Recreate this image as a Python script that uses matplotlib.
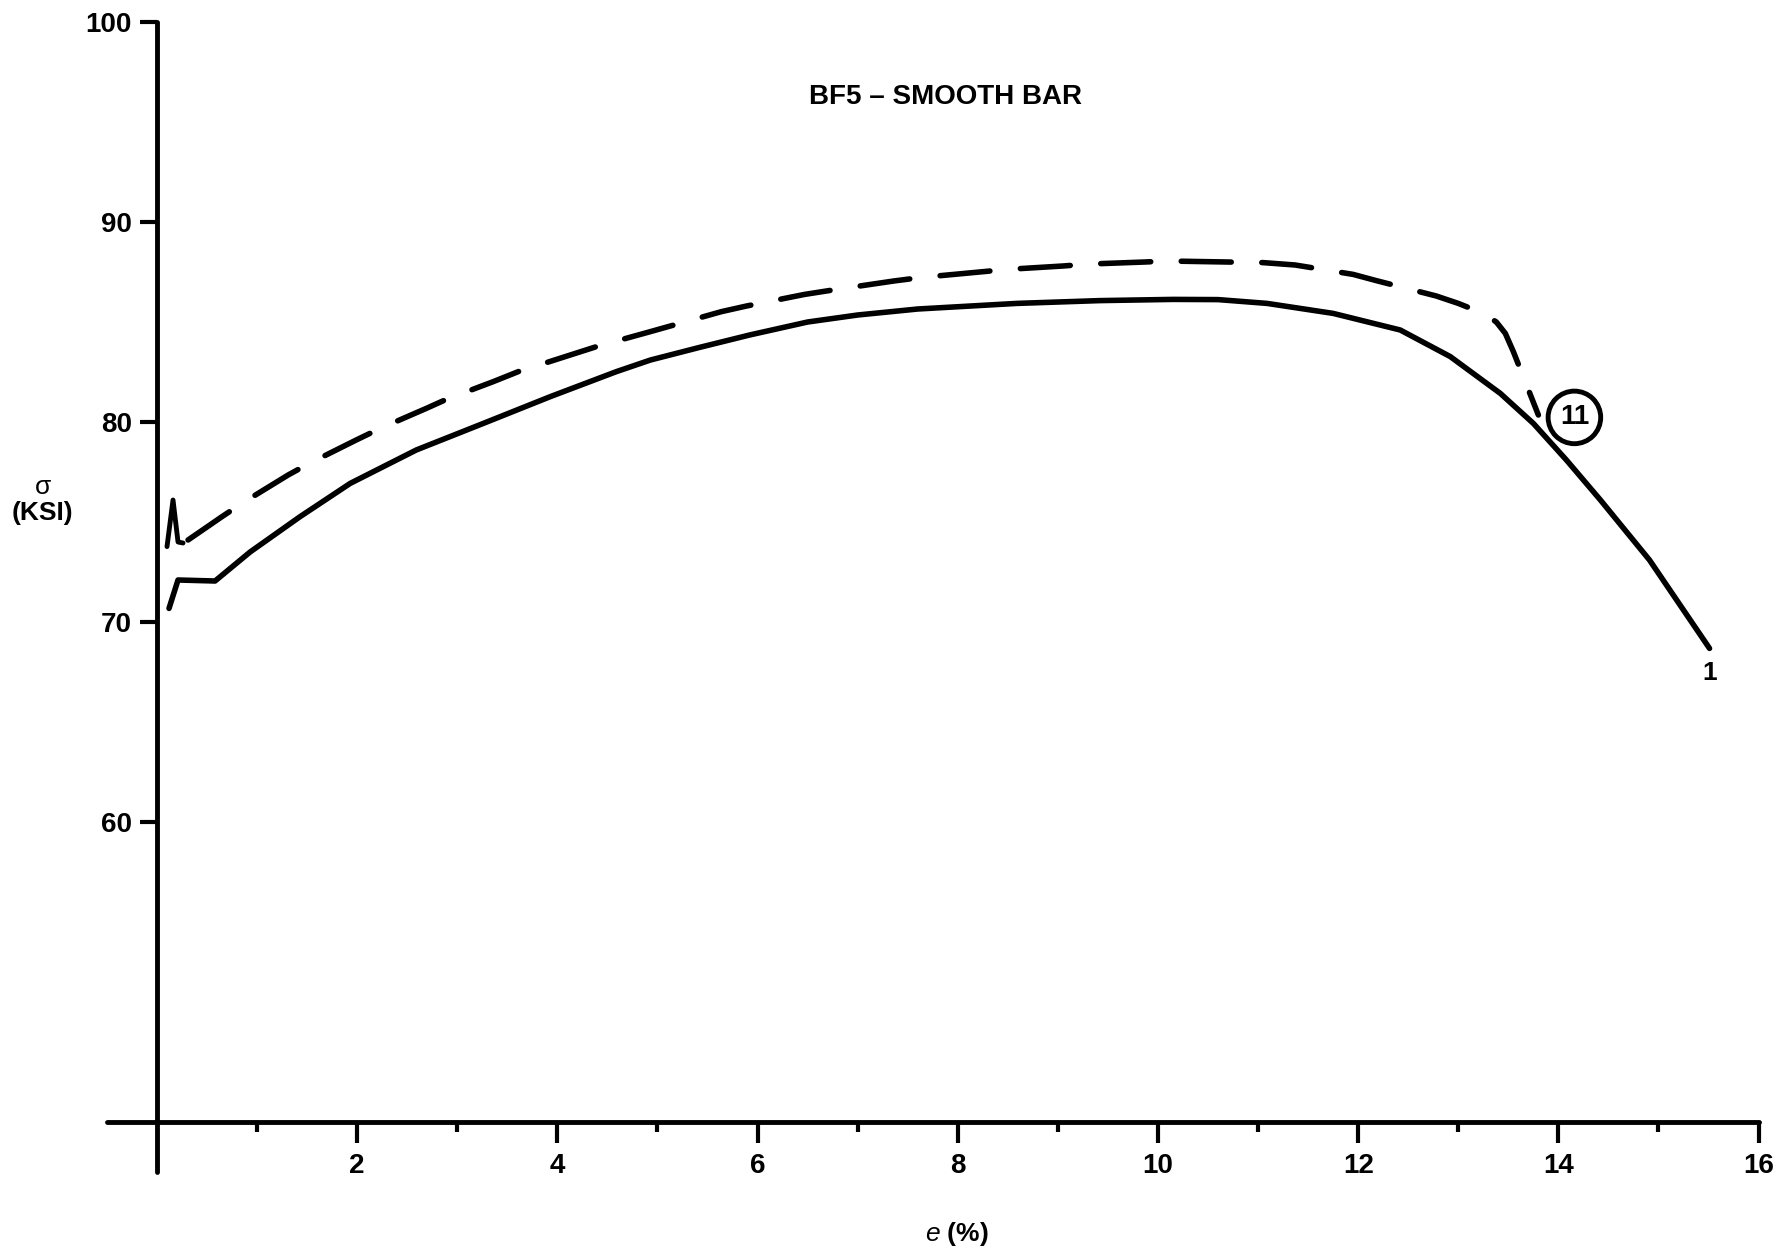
import matplotlib
matplotlib.use('Agg')
import matplotlib.pyplot as plt

plt.rcParams['font.family'] = ['Liberation Sans', 'DejaVu Sans']
plt.rcParams['mathtext.fontset'] = 'custom'
plt.rcParams['mathtext.it'] = 'Liberation Sans:italic'

# curva 1 (linha cheia)
e_solid = [0.12, 0.21, 0.58, 0.93, 1.43, 1.93, 2.59, 3.26, 3.93, 4.59, 4.93,
           5.42, 5.92, 6.5, 7.0, 7.6, 8.59, 9.42, 10.15, 10.6, 11.09, 11.75,
           12.42, 12.92, 13.42, 13.75, 14.08, 14.42, 14.91, 15.51]
s_solid = [70.68, 72.10, 72.05, 73.50, 75.27, 76.93, 78.60, 79.93, 81.27, 82.52, 83.10,
           83.73, 84.35, 85.0, 85.35, 85.65, 85.93, 86.07, 86.13, 86.12, 85.93, 85.43,
           84.60, 83.27, 81.43, 79.93, 78.10, 76.1, 73.1, 68.68]

# curva 11 (tracejada)
e_dash = [0.31, 0.65, 0.86, 1.31, 1.51, 1.99, 2.23, 2.69, 2.89, 3.36, 3.61, 4.16,
          4.41, 4.93, 5.64, 5.89, 6.47, 6.79, 7.36, 7.64, 8.26, 8.49, 9.05, 9.32,
          9.87, 10.10, 10.45, 11.05, 11.37, 11.95, 12.18, 12.78, 13.00, 13.25,
          13.38, 13.47, 13.55, 13.80]
s_dash = [74.10, 75.27, 75.97, 77.35, 77.90, 79.10, 79.68, 80.68, 81.13, 82.02, 82.52, 83.40,
          83.80, 84.52, 85.52, 85.80, 86.38, 86.63, 87.05, 87.23, 87.52, 87.63, 87.80, 87.90,
          88.00, 88.05, 88.02, 87.97, 87.85, 87.38, 87.07, 86.30, 85.93, 85.43,
          85.0, 84.43, 83.52, 80.35]

# pico de escoamento da curva 11
e_yield = [0.10, 0.16, 0.21, 0.26]
s_yield = [73.77, 76.10, 74.00, 73.95]

x_major = [2, 4, 6, 8, 10, 12, 14, 16]
x_minor = [1, 3, 5, 7, 9, 11, 13, 15]
y_major = [60, 70, 80, 90, 100]

fig = plt.figure(figsize=(17.86, 12.52), dpi=100)
ax = fig.add_axes([0.03186, 0.02396, 0.9640, 0.97444])
ax.set_xlim(-1, 16.2)
ax.set_ylim(40, 101)

for side in ['top', 'right']:
    ax.spines[side].set_visible(False)
ax.spines['left'].set_position(('data', 0))
ax.spines['left'].set_bounds(42.5, 100)
ax.spines['bottom'].set_position(('data', 45))
ax.spines['bottom'].set_bounds(-0.5, 16)
for side in ['left', 'bottom']:
    ax.spines[side].set_linewidth(3.5)
    ax.spines[side].set_capstyle('round')

ax.set_xticks(x_major, [str(v) for v in x_major])
ax.set_xticks(x_minor, minor=True)
ax.set_yticks(y_major, [str(v) for v in y_major])
ax.tick_params(axis='x', which='major', direction='out', length=15, width=3, pad=7, labelsize=20)
ax.tick_params(axis='x', which='minor', direction='out', length=7, width=3)
ax.tick_params(axis='y', which='major', direction='out', length=12, width=3, pad=6, labelsize=20)
for lab in ax.get_xticklabels() + ax.get_yticklabels():
    lab.set_fontweight('bold')

ax.plot(e_solid, s_solid, color='black', lw=4, solid_capstyle='round', solid_joinstyle='round')
ax.plot(e_dash, s_dash, color='black', lw=4, linestyle=(0, (9, 5.5)), dash_capstyle='round',
        dash_joinstyle='round')
ax.plot(e_yield, s_yield, color='black', lw=3.5, solid_capstyle='round', solid_joinstyle='round')

ax.text(7.88, 96.25, 'BF5 – SMOOTH BAR', ha='center', va='center', fontsize=20, fontweight='bold')
ax.text(-1.14, 76.75, 'σ', ha='center', va='center', fontsize=19, clip_on=False)
ax.text(-1.14, 75.45, '(KSI)', ha='center', va='center', fontsize=19, fontweight='bold', clip_on=False)
ax.text(7.99, 39.4, '$e$ (%)', ha='center', va='center', fontsize=19, fontweight='bold', clip_on=False)
ax.text(15.51, 67.45, '1', ha='center', va='center', fontsize=19, fontweight='bold')
ax.text(14.16, 80.23, '11', ha='center', va='center', fontsize=20, fontweight='bold',
        bbox=dict(boxstyle='circle,pad=0.42', fc='white', ec='black', lw=3.5))

fig.savefig('out.png', dpi=100)
